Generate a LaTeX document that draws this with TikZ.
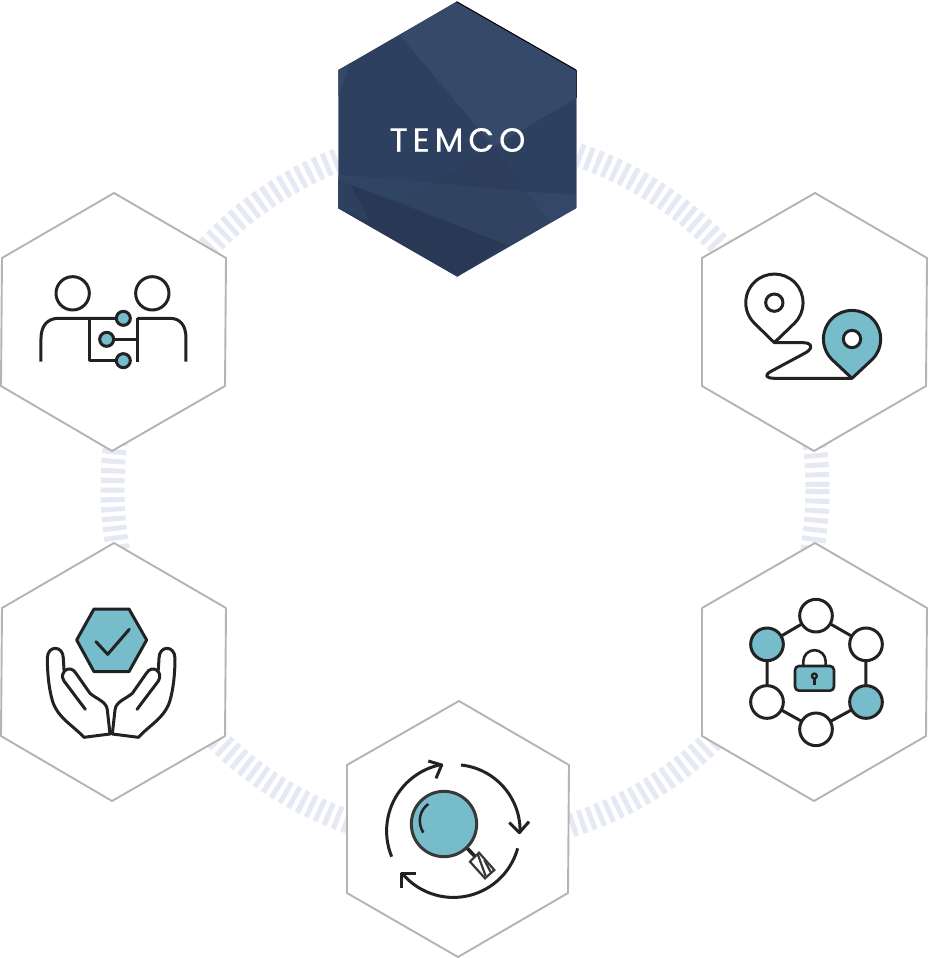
\documentclass[tikz,border=0pt]{standalone}
\usepackage{fontspec}
\newfontfamily\logofont[LetterSpace=14.5,FakeBold=0.35]{Poppins}
\definecolor{teal}{HTML}{76BCCB}
\definecolor{ink}{HTML}{222222}
\definecolor{ringc}{HTML}{E6E9F3}
\definecolor{hexline}{HTML}{B4B4B4}
\tikzset{
  hexcell/.style={draw=hexline,line width=1.9pt,fill=white,line join=round},
  icon/.style={draw=ink,line width=3pt,line join=round,line cap=butt},
  iconfill/.style={icon,fill=teal},
  iconwhite/.style={icon,fill=white},
  thinicon/.style={draw=ink,line width=2.6pt,line join=round},
}
\begin{document}
\begin{tikzpicture}[x=1pt,y=-1pt]
\path[use as bounding box,fill=white] (0,0) rectangle (928,958);
% dashed ring
\draw[ringc,line width=24pt,dash pattern=on 5pt off 4.6pt] (465,489) circle[radius=352.5];
% outline hexagons
\draw[hexcell] (114,193)--(226,258)--(225,386)--(112,451)--(1,386)--(2,258)--cycle;
\draw[hexcell] (815,193)--(927,258)--(926,386)--(814,451)--(702,386)--(702,258)--cycle;
\draw[hexcell] (114,543)--(226,608)--(225,736)--(112,801)--(1,736)--(2,608)--cycle;
\draw[hexcell] (815,543)--(927,608)--(926,736)--(814,801)--(702,736)--(702,608)--cycle;
\draw[hexcell] (459,701)--(569,765)--(568,893)--(458,957)--(347,893)--(347,765)--cycle;
% top hexagon with facets
\begin{scope}[shift={(330,0)},scale=0.3333]
\fill[color={rgb,255:red,46;green,64;blue,95}] (380,5)--(738,210)--(738,625)--(382,830)--(25,625)--(25,210)--cycle;
\fill[color={rgb,255:red,53;green,73;blue,106}] (210,105)--(380,5)--(738,210)--(738,295)--(490,440)--cycle;
\fill[color={rgb,255:red,52;green,72;blue,104}] (25,210)--(60,190)--(25,290)--cycle;
\fill[color={rgb,255:red,44;green,62;blue,92}] (310,548)--(490,440)--(590,575)--cycle;
\fill[color={rgb,255:red,48;green,69;blue,100}] (25,525)--(310,548)--(210,605)--(25,540)--cycle;
\fill[color={rgb,255:red,48;green,68;blue,98}] (310,548)--(590,575)--(660,668)--(530,735)--(210,605)--cycle;
\fill[color={rgb,255:red,51;green,72;blue,105}] (590,575)--(738,585)--(738,625)--(660,668)--cycle;
\fill[color={rgb,255:red,41;green,57;blue,85}] (25,540)--(530,735)--(382,830)--(25,625)--cycle;
\fill[color={rgb,255:red,46;green,64;blue,95}] (25,540)--(60,553)--(120,665)--(25,625)--cycle;
\draw[black,line width=1pt] (380,5)--(738,210);
\draw[color={rgb,255:red,30;green,40;blue,60},line width=0.8pt] (738,210)--(738,295);
\draw[color={rgb,255:red,130;green,145;blue,170},line width=0.9pt] (738,295)--(738,625);
\end{scope}
\node[text=white,font=\logofont\fontsize{33.5}{34}\selectfont,inner sep=0pt,anchor=center] (logo) at (457.5,140) {TEMCO};
% people icon
\begin{scope}[shift={(20,260)},scale=0.3333]
\draw[icon] (158,100) circle[radius=50];
\draw[icon] (397,100) circle[radius=50];
\draw[icon] (63,305)--(63,235) .. controls (63,195) and (85,175) .. (115,175)--(310,175);
\draw[icon] (352,175)--(450,175) .. controls (480,175) and (498,195) .. (498,235)--(498,305);
\draw[icon] (210,175)--(210,302)--(310,302);
\draw[icon] (352,175)--(352,305);
\draw[icon] (260,238)--(352,238);
\draw[iconfill] (310,175) circle[radius=21];
\draw[iconfill] (260,238) circle[radius=21];
\draw[iconfill] (310,302) circle[radius=21];
\end{scope}
% route icon
\begin{scope}[shift={(730,260)},scale=0.3333]
\draw[icon] (133,248) -- ++(60,-58) arc[start angle=46,end angle=-226,radius=86] -- cycle;
\draw[icon] (133,128) circle[radius=26];
\draw[icon,line cap=round] (133,248)--(218,248) .. controls (250,248) and (250,268) .. (220,282)--(125,333) .. controls (100,346) and (108,355) .. (135,355)--(366,355);
\draw[iconfill] (366,355) -- ++(60,-56) arc[start angle=46,end angle=-226,radius=86] -- cycle;
\draw[iconwhite] (366,237) circle[radius=26];
\end{scope}
% hands icon
\begin{scope}[shift={(30,595)},scale=0.3333]
\draw[iconfill] (192,42)--(297,42)--(350,135)--(297,230)--(192,230)--(140,135)--cycle;
\draw[icon,line cap=round] (198,140)--(233,178)--(298,103);
\draw[icon,line cap=round] (240,417)--(162,427) .. controls (130,392) and (85,370) .. (68,320) .. controls (56,280) and (52,230) .. (52,190) .. controls (52,150) and (100,150) .. (100,190)--(102,225);
\draw[icon,line cap=round] (166,343)--(102,258) .. controls (85,232) and (120,205) .. (138,235)--(180,295) .. controls (200,312) and (230,320) .. (232,345)--(240,417);
\end{scope}
\begin{scope}[shift={(192.33,595)},xscale=-0.3333,yscale=0.3333]
\draw[icon,line cap=round] (240,417)--(162,427) .. controls (130,392) and (85,370) .. (68,320) .. controls (56,280) and (52,230) .. (52,190) .. controls (52,150) and (100,150) .. (100,190)--(102,225);
\draw[icon,line cap=round] (166,343)--(102,258) .. controls (85,232) and (120,205) .. (138,235)--(180,295) .. controls (200,312) and (230,320) .. (232,345)--(240,417);
\end{scope}
% network lock icon
\begin{scope}[shift={(735,590)},scale=0.3333]
\draw[icon] (243,77)--(393,163)--(393,336)--(243,418)--(96,336)--(96,163)--cycle;
\draw[iconwhite] (243,77) circle[radius=49];
\draw[iconwhite] (393,163) circle[radius=49];
\draw[iconfill] (393,336) circle[radius=49];
\draw[iconwhite] (243,418) circle[radius=49];
\draw[iconwhite] (96,336) circle[radius=49];
\draw[iconfill] (96,163) circle[radius=49];
\draw[thinicon] (205,228)--(205,214) arc[start angle=180,end angle=360,radius=33.5]--(272,228);
\draw[thinicon,fill=teal,rounded corners=4pt] (180,228) rectangle (297,302);
\draw[thinicon,fill=ink] (238,258) circle[radius=7];
\draw[thinicon] (238,258)--(238,284);
\fill[teal] (238,258) circle[radius=3.5];
\end{scope}
% search cycle icon
\begin{scope}[shift={(375,750)},scale=0.3333]
\draw[icon] (50,320) arc[start angle=157.7,end angle=259,radius=203];
\draw[icon] (160,33)--(200,45)--(183,85);
\draw[icon] (258,45) arc[start angle=-84,end angle=1.5,radius=198];
\draw[icon] (403,218)--(433,248)--(462,215);
\draw[icon] (428,295) arc[start angle=15.3,end angle=140.8,radius=200];
\draw[icon] (122,372)--(80,372)--(80,415);
\draw[draw=ink,line width=3.6pt] (275,293)--(308,328);
\draw[draw=ink!90,line width=2.2pt,fill=white] (312,308)--(358,360)--(330,385)--(285,335)--cycle;
\draw[draw=ink!90,line width=2.2pt] (308,312)--(332,378);
\draw[draw=ink!90,line width=2.2pt] (328,330)--(348,368);
\draw[draw=ink!90,line width=3pt,fill=teal] (207,222) circle[radius=98];
\draw[icon,line width=2.5pt] (160,162) .. controls (135,180) and (125,215) .. (145,248);
\end{scope}
\end{tikzpicture}
\end{document}
